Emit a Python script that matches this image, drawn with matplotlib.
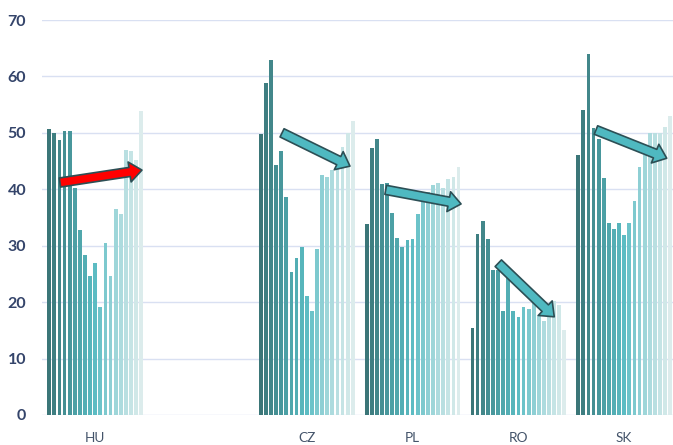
import numpy as np
import matplotlib.pyplot as plt
from matplotlib.colors import LinearSegmentedColormap
from matplotlib.patches import FancyArrowPatch

# Countries; the blank slot leaves the gap after HU
countries = ["HU", "", "CZ", "PL", "RO", "SK"]

hu = [50.7, 49.9, 48.8, 50.4, 50.3, 40.3, 32.8, 28.4, 24.7, 26.9,
      19.1, 30.5, 24.7, 36.5, 35.6, 47.0, 46.8, 45.2, 53.9]
cz = [49.8, 58.8, 62.9, 44.3, 46.8, 38.6, 25.3, 27.8, 29.8, 21.1,
      18.4, 29.4, 42.5, 42.1, 43.5, 44.8, 47.5, 50.0, 52.1]
pl = [33.9, 47.3, 48.9, 40.9, 41.2, 35.8, 31.3, 29.7, 31.0, 31.2,
      35.6, 38.0, 39.5, 40.8, 41.2, 40.2, 41.8, 42.1, 44.0]
ro = [15.5, 32.1, 34.4, 31.2, 25.7, 25.7, 18.4, 25.7, 18.4, 17.4,
      19.1, 18.7, 19.8, 17.7, 16.7, 17.4, 20.2, 19.5, 15.1]
sk = [46.0, 54.0, 64.0, 50.9, 49.0, 42.0, 34.0, 33.0, 34.0, 31.9,
      34.0, 38.0, 44.0, 46.1, 49.9, 49.9, 49.9, 51.0, 52.9]

series_by_country = {"HU": hu, "CZ": cz, "PL": pl, "RO": ro, "SK": sk}

# trend arrows: (tail x, tail y), (tip x, tip y) in data units
arrows = [
    ((-0.333, 41.2), (0.442, 43.4), "#ff0000"),
    ((1.766, 50.0), (2.408, 44.1), "#4fb9c1"),
    ((2.746, 39.9), (3.458, 37.4), "#4fb9c1"),
    ((3.810, 26.9), (4.339, 17.4), "#4fb9c1"),
    ((4.733, 50.5), (5.402, 45.5), "#4fb9c1"),
]

n_years = len(hu)
group_w = 0.917
slot = group_w / n_years
cmap = LinearSegmentedColormap.from_list(
    "teal", ["#3b7678", "#4a9ca1", "#5bbcc3", "#a7d9dc", "#dcecec"])
bar_colors = [cmap(i / (n_years - 1)) for i in range(n_years)]

fig = plt.figure(figsize=(6.73, 4.45), dpi=100)
ax = fig.add_axes([42.3 / 673, 30 / 445, (673 - 42.3) / 673, 395 / 445])

x = np.arange(len(countries))
for ci, name in enumerate(countries):
    if name not in series_by_country:
        continue
    vals = series_by_country[name]
    offsets = ci - group_w / 2 + slot * (np.arange(n_years) + 0.5)
    ax.bar(offsets, vals, width=slot * 0.74, color=bar_colors, zorder=2)

for tail, tip, col in arrows:
    arr = FancyArrowPatch(tail, tip, arrowstyle="simple,head_length=0.9,head_width=1.45,tail_width=0.66",
                          mutation_scale=10, facecolor=col, edgecolor="#2c4f55",
                          linewidth=1.2, shrinkA=0, shrinkB=0, zorder=5)
    ax.add_patch(arr)

ax.set_xlim(-0.5, (673 - 42.3) / 105.8 - 0.5)
ax.set_ylim(0, 70)
ax.set_yticks(range(0, 71, 10))
ax.set_xticks(x)
ax.set_xticklabels(countries)
ax.grid(axis="y", color="#d9e0f2", linewidth=1.0, zorder=0)
for s in ax.spines.values():
    s.set_visible(False)
ax.tick_params(axis="both", length=0)
ax.tick_params(axis="y", pad=11.7, labelsize=11.5, labelcolor="#34446a")
ax.tick_params(axis="x", pad=12, labelsize=9.8, labelcolor="#44546a")
for lab in ax.get_yticklabels():
    lab.set_fontweight("bold")
    lab.set_family("Lato")
for lab in ax.get_xticklabels():
    lab.set_family("Lato")

fig.savefig("out.png", dpi=100)
